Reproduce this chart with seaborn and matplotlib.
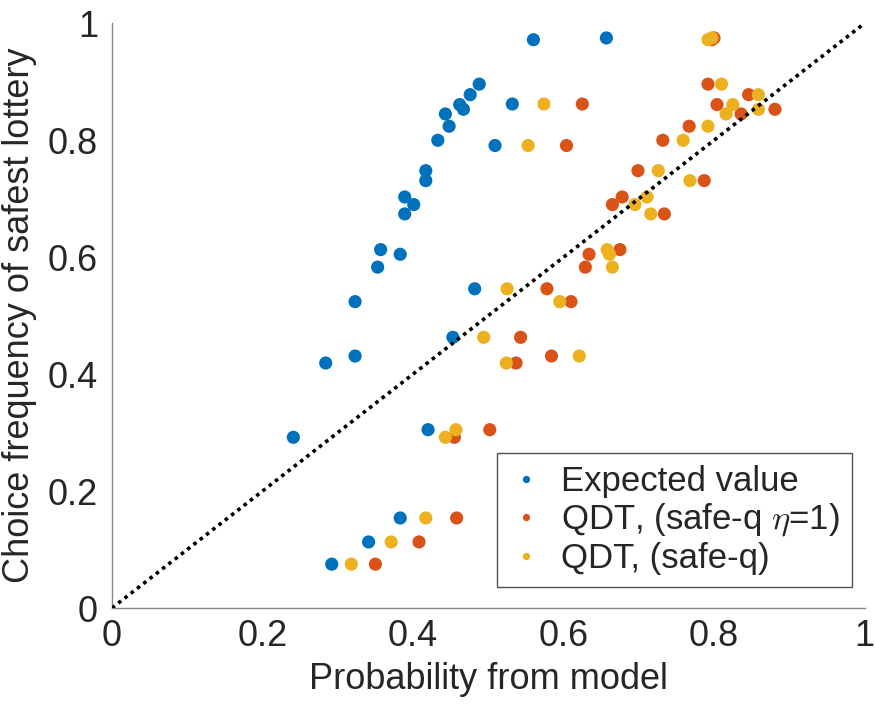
import numpy as np
import pandas as pd
import matplotlib
matplotlib.use("Agg")
import matplotlib.pyplot as plt
import seaborn as sns
from matplotlib.ticker import FuncFormatter

# Observed choice frequency of the safest lottery, one entry per problem
freq = [0.975, 0.972, 0.896, 0.878, 0.862, 0.861, 0.853, 0.845, 0.824, 0.800,
        0.791, 0.748, 0.731, 0.703, 0.690, 0.674, 0.613, 0.605, 0.583, 0.546,
        0.524, 0.463, 0.431, 0.419, 0.305, 0.292, 0.154, 0.113, 0.075]

# Model predictions for the same problems
p_ev = [0.657, 0.560, 0.488, 0.476, 0.532, 0.462, 0.467, 0.443, 0.448, 0.433,
        0.509, 0.417, 0.417, 0.389, 0.401, 0.389, 0.357, 0.383, 0.353, 0.482,
        0.323, 0.453, 0.323, 0.284, 0.420, 0.241, 0.383, 0.341, 0.292]
p_qdt_eta1 = [0.800, 0.797, 0.792, 0.846, 0.625, 0.804, 0.881, 0.836, 0.767, 0.732,
              0.604, 0.699, 0.787, 0.678, 0.665, 0.734, 0.675, 0.634, 0.629, 0.578,
              0.610, 0.543, 0.584, 0.537, 0.502, 0.455, 0.458, 0.408, 0.350]
p_qdt = [0.797, 0.792, 0.810, 0.859, 0.574, 0.825, 0.859, 0.816, 0.792, 0.759,
         0.553, 0.726, 0.768, 0.711, 0.695, 0.716, 0.658, 0.661, 0.665, 0.525,
         0.595, 0.494, 0.621, 0.524, 0.457, 0.443, 0.417, 0.371, 0.318]

labels = ["Expected value", r"QDT, (safe-q $\eta$=1)", "QDT, (safe-q)"]
colors = ["#0072BD", "#D95319", "#EDB120"]

df = pd.concat([
    pd.DataFrame({"model": labels[0], "prob": p_ev, "freq": freq}),
    pd.DataFrame({"model": labels[1], "prob": p_qdt_eta1, "freq": freq}),
    pd.DataFrame({"model": labels[2], "prob": p_qdt, "freq": freq}),
], ignore_index=True)

sns.set_theme(style="white")
plt.rcParams["font.family"] = ["Liberation Sans", "DejaVu Sans"]
plt.rcParams["mathtext.fontset"] = "cm"

fig = plt.figure(figsize=(8.75, 7.07), dpi=100)
ax = fig.add_axes([0.128, 0.140, 0.860, 0.827])

sns.scatterplot(data=df, x="prob", y="freq", hue="model", hue_order=labels,
                palette=colors, s=90, linewidth=0, ax=ax, zorder=2)

# identity line
ax.plot([0, 1], [0, 1], linestyle=(0, (1, 1.2)), color="black", lw=2.6, zorder=3)

ax.set_xlim(0, 1)
ax.set_ylim(0, 1)
ax.set_xticks(np.arange(0, 1.01, 0.2))
ax.set_yticks(np.arange(0, 1.01, 0.2))
fmt = FuncFormatter(lambda v, _: f"{v:g}")
ax.xaxis.set_major_formatter(fmt)
ax.yaxis.set_major_formatter(fmt)

ax.set_xlabel("Probability from model", fontsize=26, color="#262626", labelpad=6)
ax.set_ylabel("Choice frequency of safest lottery", fontsize=26, color="#262626", labelpad=8)
ax.tick_params(axis="both", direction="in", length=5, width=0.8, color="#555555",
               labelsize=26, labelcolor="#262626")
ax.tick_params(axis="x", pad=8)
ax.tick_params(axis="y", pad=10)

for side in ["top", "right"]:
    ax.spines[side].set_visible(False)
for side in ["left", "bottom"]:
    ax.spines[side].set_color("#888888")
    ax.spines[side].set_linewidth(1.0)

handles, _ = ax.get_legend_handles_labels()
leg = ax.legend(handles=handles, labels=labels, loc="lower right",
                bbox_to_anchor=(0.983, 0.036), borderaxespad=0, fontsize=25,
                frameon=True, fancybox=False, edgecolor="#262626",
                markerscale=0.55, handletextpad=0.5, borderpad=0.35,
                labelspacing=0.1, handlelength=1.0)
leg.get_frame().set_linewidth(1.0)

fig.savefig("out.png", dpi=100, facecolor="white")
